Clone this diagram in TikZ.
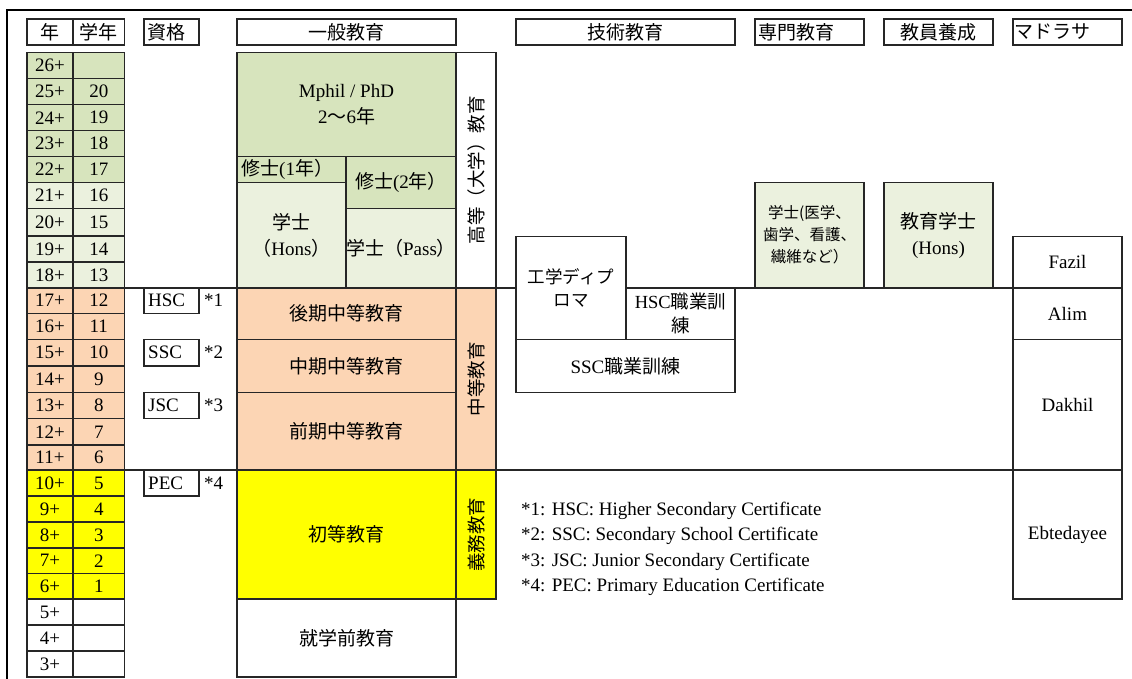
\documentclass[tikz,border=0pt]{standalone}
\usepackage{fontspec}
\setmainfont{Liberation Serif}
\newfontfamily\cjk{Noto Sans CJK JP}
\definecolor{dgreen}{HTML}{D7E4BD}
\definecolor{lgreen}{HTML}{EBF1DE}
\definecolor{salmon}{HTML}{FCD5B4}
\definecolor{yel}{HTML}{FFFF00}
\definecolor{edge}{HTML}{262626}
\newcommand\bx[7]{\node[cell,#6,minimum width={#4pt-#2pt},minimum height={#5pt-#3pt}] (#1) at (#2,#3) {#7};}
\newcommand\agerow[6]{%
  \node[cell,fill=#5,minimum width=46pt,minimum height={#2pt-#1pt}] (age#6) at (27,#1) {#3};
  \node[cell,fill=#5,minimum width=51.5pt,minimum height={#2pt-#1pt}] (grd#6) at (73,#1) {#4};}
\begin{document}
\begin{tikzpicture}[x=1pt,y=-1pt,
  cell/.style={draw=edge,line width=1.1pt,inner sep=0pt,outer sep=0pt,anchor=north west,
    font=\fontsize{19}{26}\selectfont,align=center},
  lbl/.style={anchor=west,inner sep=0pt,font=\fontsize{19}{26}\selectfont},
  vtext/.style={rotate=90,inner sep=0pt,font=\fontsize{18.5}{22}\selectfont},
  sep/.style={draw=edge,line width=1.1pt},
  frame/.style={draw=black,line width=2pt}]
\useasboundingbox (0,0) rectangle (1132,679);
% outer frame
\coordinate (fbl) at (7,679); \coordinate (ftl) at (7,10); \coordinate (ftr) at (1132,10);
\draw[frame] (fbl) -- (ftl) -- (ftr);
% horizontal separators
\coordinate (s1a) at (124.5,288); \coordinate (s1b) at (1013,288);
\coordinate (s2a) at (124.5,470); \coordinate (s2b) at (1013,470);
\draw[sep] (s1a) -- (s1b);
\draw[sep] (s2a) -- (s2b);
% headers
\bx{hAge}{27}{19}{73}{45}{}{\cjk 年}
\bx{hGrade}{73}{19}{124.5}{45}{}{\cjk 学年}
\bx{hQual}{144}{19}{199}{45}{}{}
\node[lbl] (hQualT) at (147,32) {\cjk 資格};
\bx{hGen}{237}{19}{456}{45}{}{\cjk 一般教育}
\bx{hTech}{516}{19}{735}{45}{}{\cjk 技術教育}
\bx{hProf}{755}{19}{864}{45}{}{}
\node[lbl] (hProfT) at (758,32) {\cjk 専門教育};
\bx{hTeach}{884}{19}{993}{45}{}{\cjk 教員養成}
\bx{hMad}{1013}{19}{1122}{45}{}{}
\node[lbl] (hMadT) at (1014.5,32) {\cjk マドラサ};
% age table
\agerow{52.5}{78.7}{26+}{}{dgreen}{26}
\agerow{78.7}{104.8}{25+}{20}{dgreen}{25}
\agerow{104.8}{130.8}{24+}{19}{dgreen}{24}
\agerow{130.8}{156.5}{23+}{18}{dgreen}{23}
\agerow{156.5}{182.3}{22+}{17}{dgreen}{22}
\agerow{182.3}{208.8}{21+}{16}{lgreen}{21}
\agerow{208.8}{236}{20+}{15}{lgreen}{20}
\agerow{236}{262}{19+}{14}{lgreen}{19}
\agerow{262}{288}{18+}{13}{lgreen}{18}
\agerow{288}{313.3}{17+}{12}{salmon}{17}
\agerow{313.3}{339.3}{16+}{11}{salmon}{16}
\agerow{339.3}{366}{15+}{10}{salmon}{15}
\agerow{366}{392.5}{14+}{9}{salmon}{14}
\agerow{392.5}{418.7}{13+}{8}{salmon}{13}
\agerow{418.7}{445}{12+}{7}{salmon}{12}
\agerow{445}{470}{11+}{6}{salmon}{11}
\agerow{470}{496}{10+}{5}{yel}{10}
\agerow{496}{522}{9+}{4}{yel}{9}
\agerow{522}{548}{8+}{3}{yel}{8}
\agerow{548}{573.5}{7+}{2}{yel}{7}
\agerow{573.5}{599}{6+}{1}{yel}{6}
\agerow{599}{625}{5+}{}{white}{5}
\agerow{625}{651}{4+}{}{white}{4}
\agerow{651}{677}{3+}{}{white}{3}
% qualifications
\bx{qHSC}{144}{288}{199}{313.3}{fill=white}{}
\node[lbl] (qHSCt) at (148,300.7) {HSC};
\node[lbl] (st1) at (204,300.7) {*1};
\bx{qSSC}{144}{339.3}{199}{366}{fill=white}{}
\node[lbl] (qSSCt) at (148,352.7) {SSC};
\node[lbl] (st2) at (204,352.7) {*2};
\bx{qJSC}{144}{392.5}{199}{418.7}{fill=white}{}
\node[lbl] (qJSCt) at (148,405.6) {JSC};
\node[lbl] (st3) at (204,405.6) {*3};
\bx{qPEC}{144}{470}{199}{496}{fill=white}{}
\node[lbl] (qPECt) at (148,483) {PEC};
\node[lbl] (st4) at (204,483) {*4};
% general education - higher
\bx{phd}{237}{52.5}{456}{156.5}{fill=dgreen}{Mphil / PhD\\2{\cjk 〜}6{\cjk 年}}
\bx{ms1}{237}{156.5}{346}{182.3}{fill=dgreen}{}
\node[lbl] (ms1t) at (241,169.4) {{\cjk 修士}(1{\cjk 年）}};
\bx{ms2}{346}{156.5}{456}{208.8}{fill=dgreen}{{\cjk 修士}(2{\cjk 年）}}
\bx{bh}{237}{182.3}{346}{288}{fill=lgreen}{{\cjk 学士}\\{\cjk （}Hons{\cjk ）}}
\bx{bp}{346}{208.8}{456}{288}{fill=lgreen}{{\cjk 学士（}Pass{\cjk ）}}
\bx{hig}{456}{52.5}{496}{288}{fill=white}{}
\node[vtext] (higt) at (hig.center) {\cjk 高等（大学）教育};
% secondary
\bx{hs}{237}{288}{456}{339.3}{fill=salmon}{\cjk 後期中等教育}
\bx{mids}{237}{339.3}{456}{392.5}{fill=salmon}{\cjk 中期中等教育}
\bx{ls}{237}{392.5}{456}{470}{fill=salmon}{\cjk 前期中等教育}
\bx{sec}{456}{288}{496}{470}{fill=salmon}{}
\node[vtext] (sect) at (sec.center) {\cjk 中等教育};
% primary
\bx{prim}{237}{470}{456}{599}{fill=yel}{\cjk 初等教育}
\bx{comp}{456}{470}{496}{599}{fill=yel}{}
\node[vtext] (compt) at (comp.center) {\cjk 義務教育};
\bx{pre}{237}{599}{456}{677}{fill=white}{\cjk 就学前教育}
% technical
\bx{dip}{516}{236.7}{626}{339.3}{fill=white,font=\fontsize{17.5}{23}\selectfont}{\cjk 工学ディプ\\\cjk ロマ}
\bx{hscv}{626}{288}{735}{339.3}{fill=white,font=\fontsize{18.5}{23.5}\selectfont}{HSC{\cjk 職業訓}\\{\cjk 練}}
\bx{sscv}{516}{339.3}{735}{392.7}{fill=white}{SSC{\cjk 職業訓練}}
% professional / teacher
\bx{prof}{755}{182.3}{864}{288}{fill=lgreen,font=\fontsize{15.5}{22}\selectfont}{\cjk 学士(医学、\\\cjk 歯学、看護、\\\cjk 繊維など）}
\bx{teach}{884}{182.3}{993}{288}{fill=lgreen}{{\cjk 教育学士}\\(Hons)}
% madrasa
\bx{fazil}{1013}{236.7}{1122}{288}{fill=white}{Fazil}
\bx{alim}{1013}{288}{1122}{339.3}{fill=white}{Alim}
\bx{dakhil}{1013}{339.3}{1122}{470}{fill=white}{Dakhil}
\bx{ebt}{1013}{470}{1122}{599}{fill=white}{Ebtedayee}
% notes
\node[lbl] (n1) at (521,510.5) {*1: HSC: Higher Secondary Certificate};
\node[lbl] (n2) at (521,536.3) {*2: SSC: Secondary School Certificate};
\node[lbl] (n3) at (521,561.7) {*3: JSC: Junior Secondary Certificate};
\node[lbl] (n4) at (521,587) {*4: PEC: Primary Education Certificate};
\end{tikzpicture}
\end{document}
